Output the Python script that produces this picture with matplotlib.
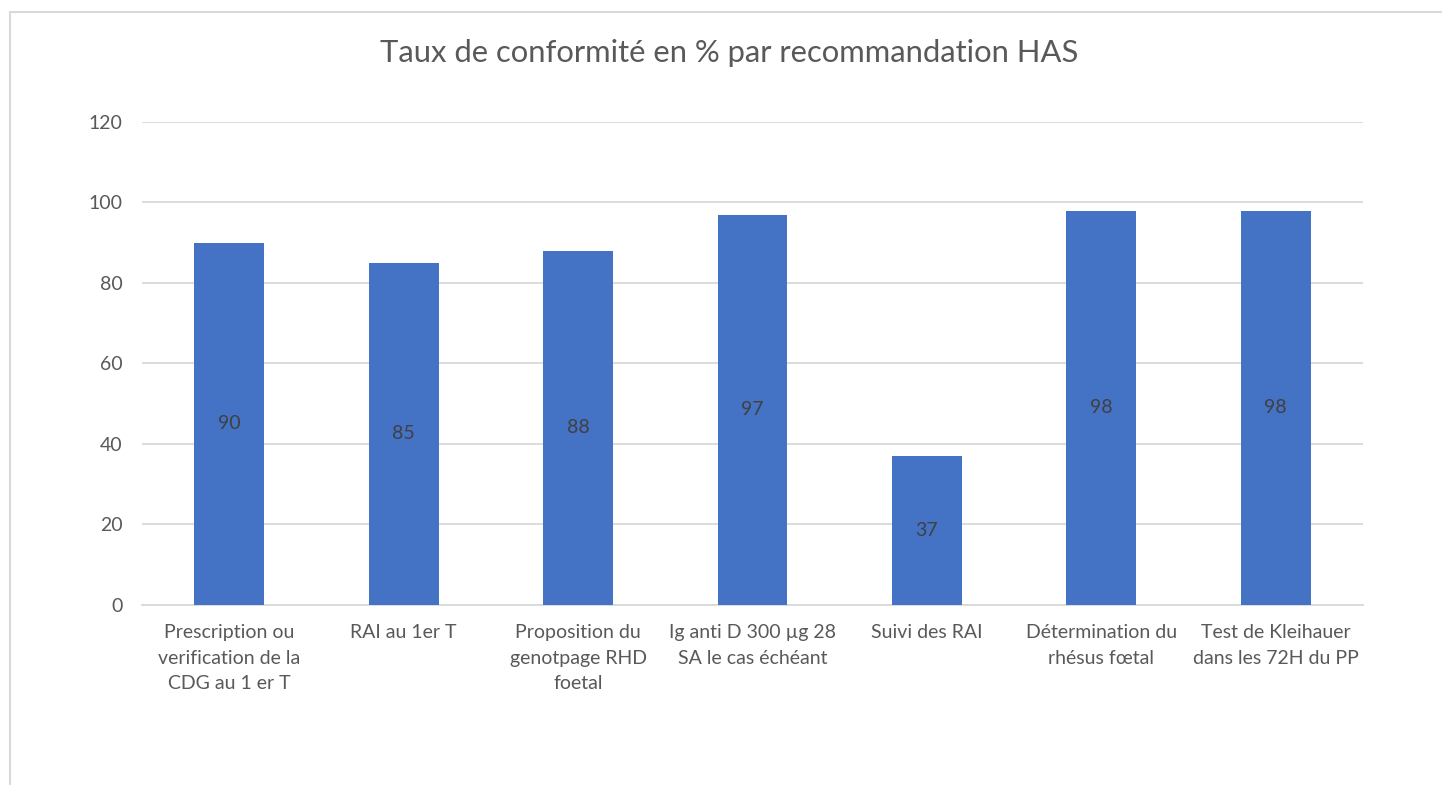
import numpy as np
import matplotlib.pyplot as plt
from matplotlib.patches import Rectangle

# Données
categories = [
    "Prescription ou\nverification de la\nCDG au 1 er T",
    "RAI au 1er T",
    "Proposition du\ngenotpage RHD\nfoetal",
    "Ig anti D 300 µg 28\nSA le cas échéant",
    "Suivi des RAI",
    "Détermination du\nrhésus fœtal",
    "Test de Kleihauer\ndans les 72H du PP",
]
valeurs = [90, 85, 88, 97, 37, 98, 98]
titre = "Taux de conformité en % par recommandation HAS"

plt.rcParams['font.family'] = ['Lato', 'DejaVu Sans']
gris = "#595959"

fig = plt.figure(figsize=(14.42, 7.85), dpi=100)
ax = fig.add_axes([0.0985, 0.2293, 0.8467, 0.6153])

x = np.arange(len(categories))
bars = ax.bar(x, valeurs, width=0.4, color="#4472C4", zorder=3)

for b, v in zip(bars, valeurs):
    ax.text(b.get_x() + b.get_width() / 2, v / 2, str(v), ha="center", va="center",
            fontsize=14, color="#404040", zorder=4)

ax.set_xlim(-0.5, len(categories) - 0.5)
ax.set_ylim(0, 120)
ax.set_yticks(range(0, 121, 20))
ax.grid(axis="y", color="#d9d9d9", linewidth=1.3, zorder=0)
for s in ["top", "right", "left"]:
    ax.spines[s].set_visible(False)
ax.spines["bottom"].set_color("#d9d9d9")
ax.spines["bottom"].set_linewidth(1.3)

ax.set_xticks(x)
ax.set_xticklabels(categories, fontsize=14, color=gris, linespacing=1.6, va="top")
ax.tick_params(axis="x", length=0, pad=14)
ax.tick_params(axis="y", length=0, pad=14, labelsize=14, labelcolor=gris)

fig.text(0.506, 0.933, titre, ha="center", va="center", fontsize=22.3, color=gris)

# cadre du graphique
fig.patches.append(Rectangle((10 / 1442, -0.05), 1.1, 1 - 12 / 785 + 0.05,
                             transform=fig.transFigure, fill=False,
                             edgecolor="#d9d9d9", linewidth=1.5))

fig.savefig("out.png", dpi=100)
